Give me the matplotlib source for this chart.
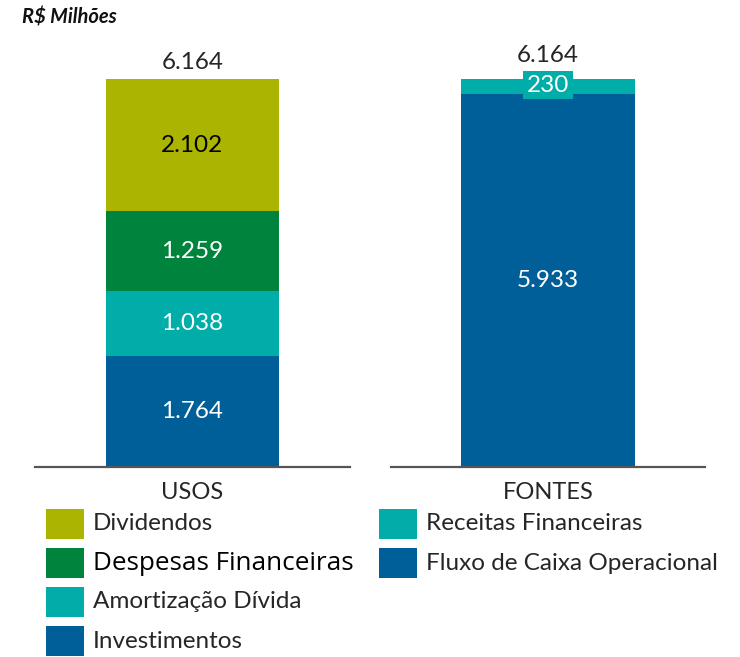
import matplotlib.pyplot as plt
from matplotlib.patches import Rectangle

plt.rcParams['font.family'] = ['Lato', 'DejaVu Sans']

# dados (R$ milhões)
usos_labels = ['Investimentos', 'Amortização Dívida', 'Despesas Financeiras', 'Dividendos']
usos_values = [1764, 1038, 1259, 2102]
usos_colors = ['#005F99', '#00ADA8', '#00843D', '#ABB400']
usos_text = ['white', 'white', 'white', 'black']

fontes_labels = ['Fluxo de Caixa Operacional', 'Receitas Financeiras']
fontes_values = [5933, 230]
fontes_colors = ['#005F99', '#00ADA8']
total_label = '6.164'

W, H = 740, 657
fig = plt.figure(figsize=(7.4, 6.57), dpi=100)
TXT = '#262626'

def fmt(v):
    return f'{v:,}'.replace(',', '.')

def panel(x0, x1, values, colors, title):
    ax = fig.add_axes([x0 / W, 1 - 467 / H, (x1 - x0) / W, (467 - 39) / H])
    bottom = 0
    for v, c in zip(values, colors):
        ax.bar(0, v, width=0.552, bottom=bottom, color=c)
        bottom += v
    ax.set_xlim(-0.5, 0.5)
    ax.set_ylim(0, 6800)
    for s in ['top', 'right', 'left']:
        ax.spines[s].set_visible(False)
    ax.spines['bottom'].set_color('#555555')
    ax.spines['bottom'].set_linewidth(1.6)
    ax.set_xticks([])
    ax.set_yticks([])
    ax.text(0, -0.06, title, transform=ax.get_xaxis_transform(), ha='center', va='center',
            fontsize=17, color=TXT)
    return ax

# USOS
ax1 = panel(35, 350, usos_values, usos_colors, 'USOS')
bottom = 0
for v, tc in zip(usos_values, usos_text):
    ax1.text(0, bottom + v / 2, fmt(v), ha='center', va='center', fontsize=17.5, color=tc)
    bottom += v
ax1.text(0, bottom + 270, total_label, ha='center', va='center', fontsize=17.5, color=TXT)

# FONTES
ax2 = panel(391, 705, fontes_values, fontes_colors, 'FONTES')
ax2.text(0, fontes_values[0] / 2, fmt(fontes_values[0]), ha='center', va='center',
         fontsize=17.5, color='white')
ax2.text(0, fontes_values[0] + fontes_values[1] / 2 + 20, fmt(fontes_values[1]), ha='center',
         va='center', fontsize=17.5, color='white',
         bbox=dict(boxstyle='square,pad=0.15', facecolor='#00ADA8', edgecolor='none'))
ax2.text(0, sum(fontes_values) + 370, total_label, ha='center', va='center',
         fontsize=17.5, color=TXT)

fig.text(22 / W, 1 - 18 / H, 'R$ Milhões', fontsize=14.5, fontweight='bold', fontstyle='italic',
         ha='left', va='center', color='#111111')

# legenda
def legend_item(x, y, patch_color, label, **kw):
    fig.patches.append(Rectangle((x / W, 1 - (y + 15) / H), 38 / W, 30 / H,
                                 transform=fig.transFigure, facecolor=patch_color,
                                 edgecolor='none'))
    style = dict(fontsize=17.5, color=TXT)
    style.update(kw)
    fig.text((x + 47) / W, 1 - y / H, label, ha='left', va='center', **style)

rows = [524, 563, 602, 641]
for i, lab in enumerate(usos_labels[::-1]):
    col = usos_colors[::-1][i]
    if lab == 'Despesas Financeiras':
        legend_item(46, rows[i], col, lab, fontsize=18.8, color='black',
                    family=['Open Sans', 'DejaVu Sans'])
    else:
        legend_item(46, rows[i], col, lab)
for i, lab in enumerate(fontes_labels[::-1]):
    legend_item(379, rows[i], fontes_colors[::-1][i], lab)

fig.savefig('out.png', dpi=100)
